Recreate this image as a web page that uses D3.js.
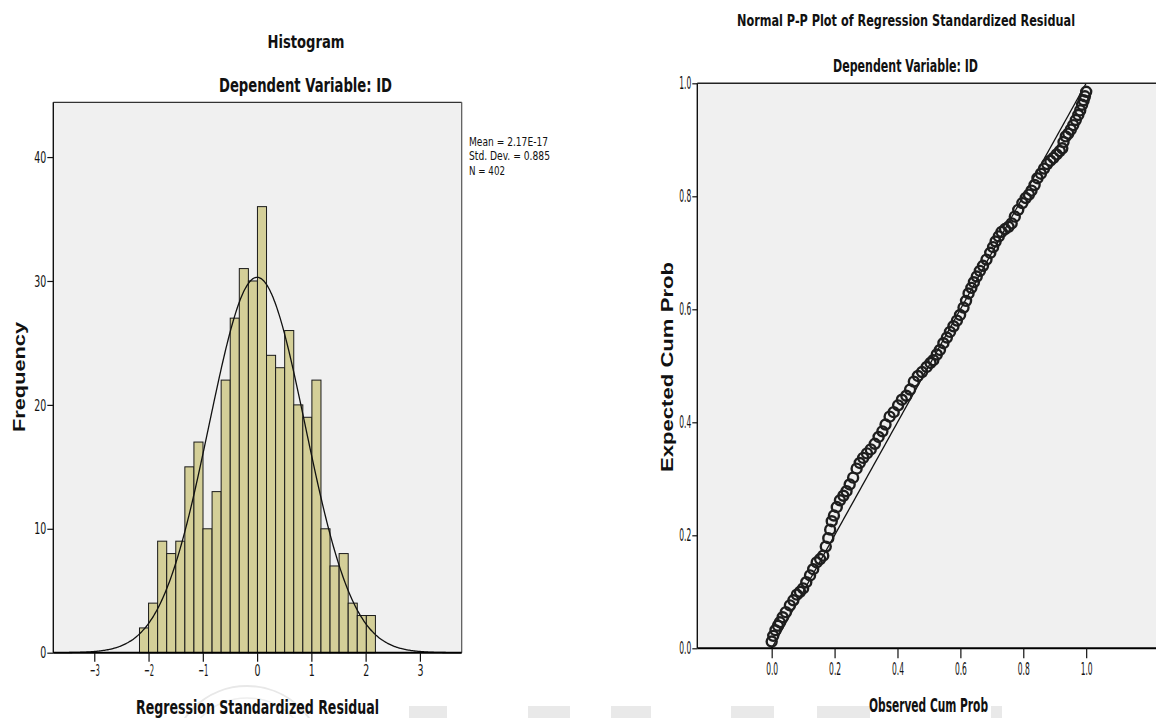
<!DOCTYPE html>
<html><head><meta charset="utf-8">
<script src="https://cdn.jsdelivr.net/npm/d3@7"></script>
<style>body{margin:0;background:#fff}svg{display:block}</style>
</head><body>
<svg id="c" width="1156" height="718"></svg>
<script>
// ---------- DATA ----------
const binCounts = [2,4,9,8,9,15,17,10,13,22,27,31,30,36,24,23,26,20,19,22,10,7,8,4,3,3];
const binStart = -2.167;
const binWidth = 0.1672;
const histMean = 2.17e-17, histSD = 0.885, histN = 402;
const statLabels = ["Mean = 2.17E-17", "Std. Dev. = 0.885", "N = 402"];
const histXTicks = [-3,-2,-1,0,1,2,3];
const histYTicks = [0,10,20,30,40];
const ppObserved = [0.000,0.005,0.012,0.020,0.026,0.035,0.045,0.058,0.069,0.080,0.090,0.100,0.110,0.122,0.132,0.143,0.154,0.164,0.172,0.180,0.186,0.191,0.198,0.207,0.217,0.228,0.238,0.248,0.259,0.270,0.280,0.291,0.303,0.315,0.328,0.340,0.352,0.362,0.375,0.388,0.402,0.414,0.428,0.440,0.452,0.465,0.478,0.493,0.505,0.514,0.525,0.535,0.546,0.557,0.567,0.578,0.589,0.599,0.610,0.618,0.626,0.635,0.643,0.652,0.662,0.672,0.683,0.695,0.704,0.712,0.722,0.731,0.742,0.753,0.763,0.773,0.784,0.797,0.808,0.818,0.826,0.836,0.845,0.856,0.866,0.876,0.886,0.896,0.906,0.916,0.924,0.928,0.935,0.943,0.951,0.959,0.967,0.975,0.981,0.987,0.992,0.996,1.000];
const ppExpected = [0.012,0.022,0.032,0.040,0.046,0.055,0.064,0.076,0.085,0.095,0.100,0.106,0.117,0.129,0.140,0.152,0.158,0.164,0.180,0.195,0.210,0.225,0.235,0.250,0.262,0.270,0.278,0.290,0.302,0.318,0.328,0.337,0.345,0.352,0.362,0.374,0.384,0.396,0.410,0.418,0.430,0.440,0.447,0.458,0.472,0.482,0.489,0.498,0.505,0.510,0.520,0.528,0.540,0.550,0.560,0.570,0.580,0.590,0.603,0.615,0.628,0.638,0.648,0.658,0.668,0.677,0.688,0.700,0.710,0.720,0.729,0.737,0.742,0.746,0.752,0.764,0.776,0.788,0.797,0.803,0.810,0.820,0.832,0.840,0.849,0.857,0.863,0.868,0.874,0.880,0.885,0.896,0.906,0.911,0.918,0.926,0.935,0.944,0.952,0.962,0.970,0.977,0.985];
const ppTicks = [0,0.2,0.4,0.6,0.8,1.0];

// ---------- SETUP ----------
const svg = d3.select("#c");
const NARROW = "'Liberation Sans Narrow','Arial Narrow','DejaVu Sans Condensed','Liberation Sans',sans-serif";
const SANS = "'Liberation Sans',Arial,sans-serif";
function fit(sel, w){ sel.attr("textLength", w).attr("lengthAdjust","spacingAndGlyphs"); return sel; }
function charW(s, dw, mw, pw){ let w=0; for(const ch of s){ w += ch==='-'||ch==='−' ? mw : ch==='.' ? pw : dw; } return w; }

// watermark (faint)
const wm = svg.append("g").attr("fill","#e9e9e9");
[[409,706,38],[528,706,42],[611,706,40],[731,706,43],[817,706,53],[991,706,11]].forEach(r=>{
  wm.append("rect").attr("x",r[0]).attr("y",r[1]).attr("width",r[2]).attr("height",718-r[1]);
});
svg.append("circle").attr("cx",247).attr("cy",762).attr("r",76).attr("fill","none").attr("stroke","#e8e8e8").attr("stroke-width",2);
svg.append("circle").attr("cx",247).attr("cy",762).attr("r",64).attr("fill","none").attr("stroke","#eeeeee").attr("stroke-width",1.5);

// ---------- HISTOGRAM ----------
const hx = d3.scaleLinear().domain([-3.755, 3.77]).range([53.3, 461.7]);
const hy = d3.scaleLinear().domain([0, 44.42]).range([652.7, 102.3]);

svg.append("rect").attr("x",53.3).attr("y",102.3).attr("width",408.4).attr("height",550.4)
  .attr("fill","#f0f0f0").attr("stroke","none");

const bins = binCounts.map((c,i)=>({x0: binStart + i*binWidth, x1: binStart + (i+1)*binWidth, c}));
svg.append("g").selectAll("rect").data(bins).join("rect")
  .attr("x", d=>hx(d.x0)).attr("width", d=>hx(d.x1)-hx(d.x0))
  .attr("y", d=>hy(d.c)).attr("height", d=>hy(0)-hy(d.c))
  .attr("fill","#d4cf98").attr("stroke","#1a1a1a").attr("stroke-width",1);

// normal curve from mean / sd / N
const pdf = x => Math.exp(-0.5*Math.pow((x-histMean)/histSD,2))/(histSD*Math.sqrt(2*Math.PI));
const curveX = d3.range(-3.755, 3.771, 0.02);
svg.append("path").datum(curveX)
  .attr("d", d3.line().x(x=>hx(x)).y(x=>hy(histN*binWidth*pdf(x))).curve(d3.curveBasis))
  .attr("fill","none").attr("stroke","#111").attr("stroke-width",1.3);

// frame
svg.append("line").attr("x1",53.3).attr("x2",461.7).attr("y1",102.3).attr("y2",102.3).attr("stroke","#333").attr("stroke-width",1.2);
svg.append("line").attr("x1",461.7).attr("x2",461.7).attr("y1",102.3).attr("y2",652.7).attr("stroke","#555").attr("stroke-width",1.2);
svg.append("line").attr("x1",53.3).attr("x2",53.3).attr("y1",102.3).attr("y2",652.7).attr("stroke","#111").attr("stroke-width",1.4);
svg.append("line").attr("x1",53.3).attr("x2",461.7).attr("y1",652.7).attr("y2",652.7).attr("stroke","#000").attr("stroke-width",2);

// axes
const hyAxis = svg.append("g").attr("transform","translate(53.3,0)")
  .call(d3.axisLeft(hy).tickValues(histYTicks).tickSize(6).tickSizeOuter(0).tickPadding(1).tickFormat(d3.format("d")));
const hxAxis = svg.append("g").attr("transform","translate(0,652.7)")
  .call(d3.axisBottom(hx).tickValues(histXTicks).tickSize(9).tickSizeOuter(0).tickPadding(3).tickFormat(d3.format("d")));
[hyAxis,hxAxis].forEach(a=>{
  a.select(".domain").remove();
  a.selectAll(".tick line").attr("stroke","#111").attr("stroke-width",1.2);
  a.selectAll(".tick text").attr("font-family",NARROW).attr("font-size",16).attr("fill","#111")
    .each(function(){ const t=d3.select(this); fit(t, charW(t.text(),6,4,3)); });
});
hxAxis.selectAll(".tick text").attr("dy","0.72em");

// stats text
svg.append("g").selectAll("text").data(statLabels).join("text")
  .attr("x",469).attr("y",(d,i)=>[145.5,160,174.5][i])
  .attr("font-family",NARROW).attr("font-size",12.5).attr("fill","#111")
  .text(d=>d).each(function(d,i){ fit(d3.select(this),[79,81,36][i]); });

// titles
fit(svg.append("text").attr("x",306).attr("y",48).attr("text-anchor","middle")
  .attr("font-family",NARROW).attr("font-weight","bold").attr("font-size",18).attr("fill","#111").text("Histogram"),77);
fit(svg.append("text").attr("x",305.5).attr("y",92).attr("text-anchor","middle")
  .attr("font-family",NARROW).attr("font-weight","bold").attr("font-size",20).attr("fill","#111").text("Dependent Variable: ID"),173);
fit(svg.append("text").attr("x",257.5).attr("y",714).attr("text-anchor","middle")
  .attr("font-family",NARROW).attr("font-weight","bold").attr("font-size",19).attr("fill","#111").text("Regression Standardized Residual"),243);
fit(svg.append("text").attr("transform","translate(25,377) rotate(-90)").attr("text-anchor","middle")
  .attr("font-family",SANS).attr("font-weight","bold").attr("font-size",16).attr("fill","#111").text("Frequency"),110);

// ---------- P-P PLOT ----------
const px = d3.scaleLinear().domain([-0.2365, 1.222]).range([697.3, 1156]);
const py = d3.scaleLinear().domain([0, 1]).range([648.3, 83.3]);

svg.append("rect").attr("x",697.3).attr("y",83.3).attr("width",1156-697.3).attr("height",648.3-83.3)
  .attr("fill","#f0f0f0");

svg.append("line").attr("x1",px(0)).attr("y1",py(0)).attr("x2",px(1)).attr("y2",py(1))
  .attr("stroke","#111").attr("stroke-width",1.3);

const pts = ppObserved.map((o,i)=>({o, e: ppExpected[i]}));
svg.append("g").selectAll("circle").data(pts).join("circle")
  .attr("cx", d=>px(d.o)).attr("cy", d=>py(d.e)).attr("r",5)
  .attr("fill","none").attr("stroke","#1e1e1e").attr("stroke-width",2.4);

// frame
svg.append("line").attr("x1",697.3).attr("x2",1156).attr("y1",83.3).attr("y2",83.3).attr("stroke","#222").attr("stroke-width",1.4);
svg.append("line").attr("x1",697.3).attr("x2",697.3).attr("y1",83.3).attr("y2",648.3).attr("stroke","#111").attr("stroke-width",1.4);
svg.append("line").attr("x1",697.3).attr("x2",1156).attr("y1",648.3).attr("y2",648.3).attr("stroke","#000").attr("stroke-width",2);

const pyAxis = svg.append("g").attr("transform","translate(697.3,0)")
  .call(d3.axisLeft(py).tickValues(ppTicks).tickSize(5).tickSizeOuter(0).tickPadding(1).tickFormat(d3.format(".1f")));
const pxAxis = svg.append("g").attr("transform","translate(0,648.3)")
  .call(d3.axisBottom(px).tickValues(ppTicks).tickSize(10).tickSizeOuter(0).tickPadding(4).tickFormat(d3.format(".1f")));
[pyAxis,pxAxis].forEach(a=>{
  a.select(".domain").remove();
  a.selectAll(".tick line").attr("stroke","#111").attr("stroke-width",1.2);
  a.selectAll(".tick text").attr("font-family",NARROW).attr("font-size",17).attr("fill","#111")
    .each(function(){ fit(d3.select(this), 12); });
});
pxAxis.selectAll(".tick text").attr("dy","0.72em");

fit(svg.append("text").attr("x",906).attr("y",26).attr("text-anchor","middle")
  .attr("font-family",NARROW).attr("font-weight","bold").attr("font-size",15).attr("fill","#111")
  .text("Normal P-P Plot of Regression Standardized Residual"),338);
fit(svg.append("text").attr("x",905.5).attr("y",71.5).attr("text-anchor","middle")
  .attr("font-family",NARROW).attr("font-weight","bold").attr("font-size",17).attr("fill","#111")
  .text("Dependent Variable: ID"),145);
fit(svg.append("text").attr("x",928.5).attr("y",711.5).attr("text-anchor","middle")
  .attr("font-family",NARROW).attr("font-weight","bold").attr("font-size",19).attr("fill","#111")
  .text("Observed Cum Prob"),119);
fit(svg.append("text").attr("transform","translate(673,367) rotate(-90)").attr("text-anchor","middle")
  .attr("font-family",SANS).attr("font-weight","bold").attr("font-size",16).attr("fill","#111")
  .text("Expected Cum Prob"),210);
</script>
</body></html>
